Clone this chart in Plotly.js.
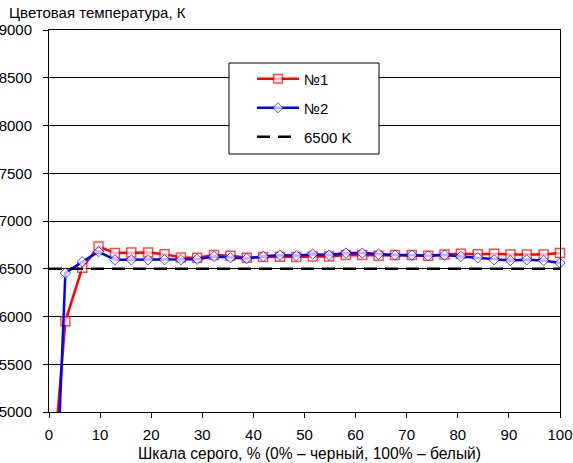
<!DOCTYPE html>
<html>
<head>
<meta charset="utf-8">
<script src="https://cdn.plot.ly/plotly-3.0.1.min.js"></script>
<style>html,body{margin:0;padding:0;background:#fff;}#chart{width:573px;height:463px;}</style>
</head>
<body>
<div id="chart"></div>
<script>
// Gray scale, % (32 steps)
const grayPct = [0, 3.2, 6.5, 9.7, 12.9, 16.1, 19.4, 22.6, 25.8, 29.0, 32.3, 35.5, 38.7, 41.9, 45.2, 48.4,
                 51.6, 54.8, 58.1, 61.3, 64.5, 67.7, 71.0, 74.2, 77.4, 80.6, 83.9, 87.1, 90.3, 93.5, 96.8, 100];
// Colour temperature, K
const series1 = [3900, 5950, 6510, 6733, 6664, 6670, 6670, 6653, 6618, 6615, 6643, 6636, 6615, 6622, 6625, 6622,
                 6629, 6629, 6643, 6643, 6636, 6643, 6643, 6636, 6650, 6657, 6653, 6657, 6650, 6650, 6650, 6664];
const series2 = [2200, 6455, 6573, 6678, 6594, 6594, 6594, 6594, 6594, 6600, 6629, 6615, 6608, 6629, 6643, 6636,
                 6653, 6643, 6664, 6664, 6653, 6643, 6643, 6636, 6643, 6629, 6615, 6594, 6587, 6594, 6587, 6560];
const refLevel = [6500, 6500];
const refX = [0, 100];
const seriesNames = ['№1', '№2', '6500 K'];
const yTitle = 'Цветовая температура, К';
const xTitle = 'Шкала серого, % (0% – черный, 100% – белый)';

const FONT = 'Liberation Sans, Arial, sans-serif';
const FS = 15;
const L = 49, R = 560, T = 30, B = 412;
const W = R - L, H = B - T;
const px = v => (v - L) / W;
const py = v => (B - v) / H;
const yMin = 5000;
const visSize = (arr, s) => arr.map(v => v < yMin ? 0 : s);

const traces = [
  {
    x: grayPct, y: series1, name: seriesNames[0], type: 'scatter', mode: 'lines+markers',
    legend: 'legend', cliponaxis: false,
    line: {color: '#ff0000', width: 2.5},
    marker: {symbol: 'square', size: visSize(series1, 9), color: '#ffffff', line: {color: '#ff0000', width: 1.5}}
  },
  {
    x: grayPct, y: series2, name: seriesNames[1], type: 'scatter', mode: 'lines+markers',
    legend: 'legend2', cliponaxis: false,
    line: {color: '#0000ff', width: 2.5},
    marker: {symbol: 'diamond', size: visSize(series2, 8), color: '#ffffff', line: {color: '#0000ff', width: 1}}
  },
  {
    x: refX, y: refLevel, name: seriesNames[2], type: 'scatter', mode: 'lines',
    legend: 'legend3',
    line: {color: '#000000', width: 2.5, dash: '13px,8px'}
  }
];

const legendBox = (rowY) => ({
  x: px(252), y: py(rowY), xanchor: 'left', yanchor: 'middle',
  bgcolor: 'rgba(0,0,0,0)', borderwidth: 0, itemwidth: 42,
  font: {family: FONT, size: FS, color: '#000000'}
});

const layout = {
  width: 573, height: 463,
  margin: {l: L, r: 573 - R, t: T, b: 463 - B, pad: 0},
  paper_bgcolor: '#ffffff', plot_bgcolor: '#ffffff',
  font: {family: FONT, size: FS, color: '#000000'},
  showlegend: true,
  legend: legendBox(79),
  legend2: legendBox(108),
  legend3: legendBox(137),
  xaxis: {
    range: [0, 100], dtick: 10, tick0: 0,
    showgrid: false, zeroline: false,
    showline: true, linecolor: '#000', linewidth: 1, mirror: true,
    ticks: 'outside', ticklen: 5, tickcolor: '#000', tickwidth: 1,
    ticklabelstandoff: 4,
    tickfont: {family: FONT, size: FS, color: '#000'}
  },
  yaxis: {
    range: [5000, 9000], dtick: 500, tick0: 5000,
    showgrid: true, gridcolor: '#000', gridwidth: 1, zeroline: false,
    showline: true, linecolor: '#000', linewidth: 1, mirror: true,
    ticks: 'outside', ticklen: 5, tickcolor: '#000', tickwidth: 1,
    ticklabelstandoff: 8,
    tickfont: {family: FONT, size: FS, color: '#000'}
  },
  shapes: [
    {type: 'rect', xref: 'paper', yref: 'paper', x0: px(229), x1: px(379), y0: py(154), y1: py(63),
     line: {color: '#000', width: 1}, fillcolor: '#ffffff', layer: 'above'}
  ],
  annotations: [
    {text: yTitle, xref: 'paper', yref: 'paper', x: px(7), y: py(12), xanchor: 'left', yanchor: 'middle',
     showarrow: false, font: {family: FONT, size: FS, color: '#000'}},
    {text: xTitle, xref: 'paper', yref: 'paper', x: px(309), y: py(453), xanchor: 'center', yanchor: 'middle',
     showarrow: false, font: {family: FONT, size: 15.6, color: '#000'}}
  ]
};

Plotly.newPlot('chart', traces, layout, {displayModeBar: false, staticPlot: true});
</script>
</body>
</html>
